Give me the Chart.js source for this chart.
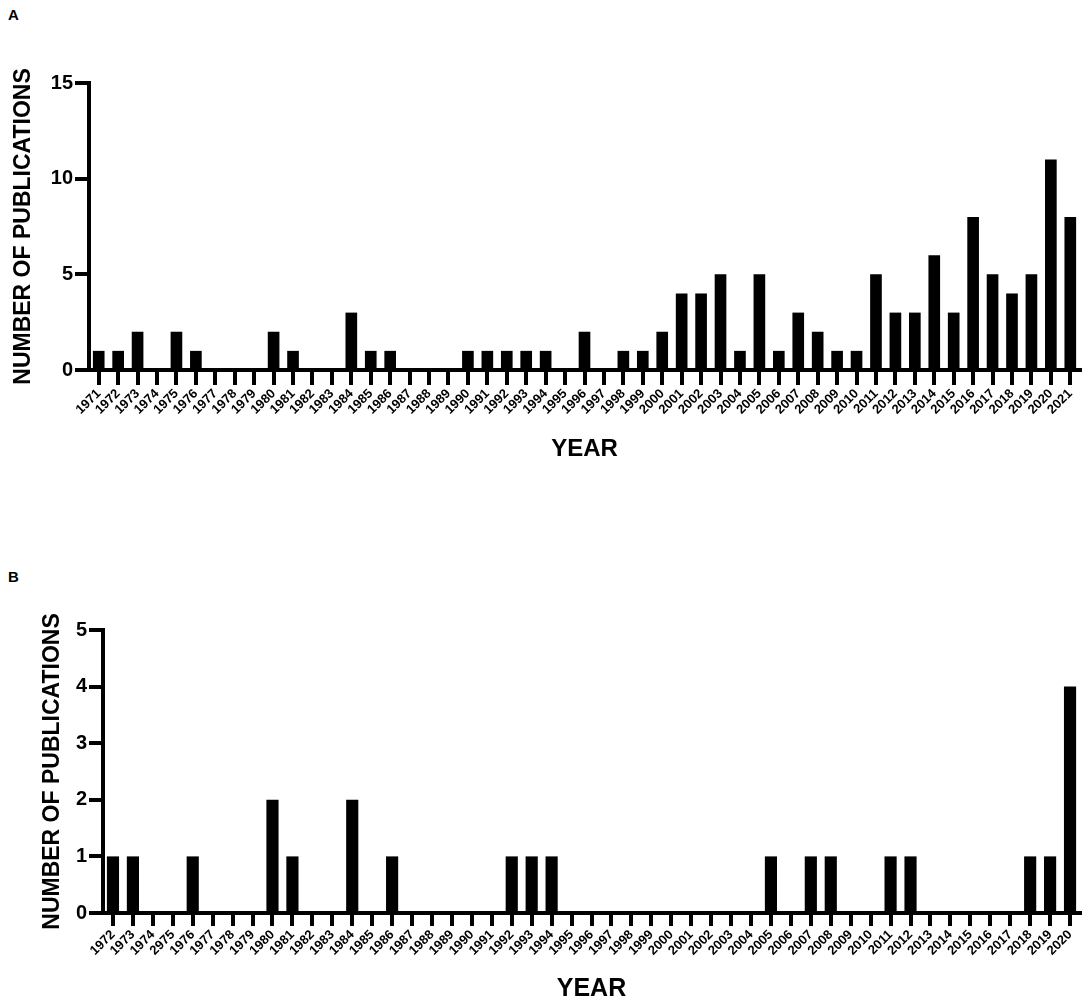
<!DOCTYPE html>
<html>
<head>
<meta charset="utf-8">
<script src="https://cdn.jsdelivr.net/npm/chart.js@4.4.1/dist/chart.umd.min.js"></script>
<style>
  html, body { margin: 0; padding: 0; background: #fff; overflow: hidden; width: 1084px; height: 1000px; }
  .wrap { position: absolute; left: 0; }
  .panel { position: absolute; left: 8px; font-family: "Liberation Sans", Arial, sans-serif; font-weight: bold; font-size: 15px; color: #000; }
</style>
</head>
<body>
<div class="panel" style="top:6px;">A</div>
<div class="panel" style="top:568px;">B</div>
<div class="wrap" style="top:0px;"><canvas id="chartA" width="1084" height="480"></canvas></div>
<div class="wrap" style="top:534px;"><canvas id="chartB" width="1084" height="470"></canvas></div>
<script>
// ---------- Data ----------
const yearsA = ["1971","1972","1973","1974","1975","1976","1977","1978","1979","1980",
  "1981","1982","1983","1984","1985","1986","1987","1988","1989","1990",
  "1991","1992","1993","1994","1995","1996","1997","1998","1999","2000",
  "2001","2002","2003","2004","2005","2006","2007","2008","2009","2010",
  "2011","2012","2013","2014","2015","2016","2017","2018","2019","2020","2021"];
const valuesA = [1,1,2,0,2,1,0,0,0,2,
  1,0,0,3,1,1,0,0,0,1,
  1,1,1,1,0,2,0,1,1,2,
  4,4,5,1,5,1,3,2,1,1,
  5,3,3,6,3,8,5,4,5,11,8];
const ticksA = [0,5,10,15];

const yearsB = ["1972","1973","1974","2975","1976","1977","1978","1979","1980","1981",
  "1982","1983","1984","1985","1986","1987","1988","1989","1990","1991",
  "1992","1993","1994","1995","1996","1997","1998","1999","2000","2001",
  "2002","2003","2004","2005","2006","2007","2008","2009","2010","2011",
  "2012","2013","2014","2015","2016","2017","2018","2019","2020"];
const valuesB = [1,1,0,0,1,0,0,0,2,1,
  0,0,2,0,1,0,0,0,0,0,
  1,1,1,0,0,0,0,0,0,0,
  0,0,0,1,0,1,1,0,0,1,
  1,0,0,0,0,0,1,1,4];
const ticksB = [0,1,2,3,4,5];

const yTitle = "NUMBER OF PUBLICATIONS";
const xTitle = "YEAR";

// ---------- Builder ----------
const FONT = "'Liberation Sans', Arial, Helvetica, sans-serif";

function makeChart(id, labels, values, yTicks, cfg) {
  const ctx = document.getElementById(id);
  return new Chart(ctx, {
    type: 'bar',
    data: {
      labels: labels,
      datasets: [{
        data: values,
        backgroundColor: '#000',
        borderWidth: 0,
        barPercentage: cfg.barPct,
        categoryPercentage: 1.0
      }]
    },
    options: {
      responsive: false,
      animation: false,
      devicePixelRatio: 1,
      layout: { padding: { top: cfg.padTop, right: cfg.padRight, left: 0, bottom: 0 } },
      plugins: { legend: { display: false }, tooltip: { enabled: false } },
      scales: {
        x: {
          type: 'category',
          offset: true,
          border: { display: true, color: '#000', width: 4 },
          grid: { display: true, offset: false, drawOnChartArea: false, drawTicks: true,
                  tickLength: cfg.xTickLen, tickWidth: 4, tickColor: '#000', color: '#000', lineWidth: 4 },
          ticks: { autoSkip: false, minRotation: 45, maxRotation: 45, color: '#000', padding: 1,
                   font: { family: FONT, weight: 'bold', size: 13 } },
          title: { display: true, text: xTitle, color: '#000',
                   font: { family: FONT, weight: 'bold', size: cfg.xTitleSize },
                   padding: { top: 0, bottom: cfg.xTitlePadB } },
          afterFit: function(s) { s.height = cfg.xHeight; }
        },
        y: {
          min: 0,
          max: yTicks[yTicks.length - 1],
          afterBuildTicks: function(s) { s.ticks = yTicks.map(v => ({ value: v })); },
          border: { display: true, color: '#000', width: 4 },
          grid: { display: true, drawOnChartArea: false, drawTicks: true,
                  tickLength: 14, tickWidth: 4, tickColor: '#000', color: '#000', lineWidth: 4 },
          ticks: { color: '#000', padding: 2, font: { family: FONT, weight: 'bold', size: 20 } },
          title: { display: true, text: yTitle, color: '#000',
                   font: { family: FONT, weight: 'bold', size: cfg.yTitleSize },
                   padding: { top: cfg.yTitlePadT, bottom: 0 } },
          afterFit: function(s) { s.width = cfg.yWidth; }
        }
      }
    }
  });
}

makeChart('chartA', yearsA, valuesA, ticksA, {
  barPct: 0.6, padTop: 83, padRight: 4, xHeight: 110, xTickLen: 15, xTitleSize: 24, xTitlePadB: 16,
  yWidth: 89, yTitleSize: 23, yTitlePadT: 10
});
makeChart('chartB', yearsB, valuesB, ticksB, {
  barPct: 0.61, padTop: 96, padRight: 4, xHeight: 91, xTickLen: 13, xTitleSize: 25, xTitlePadB: 0,
  yWidth: 103, yTitleSize: 23, yTitlePadT: 39
});
</script>
</body>
</html>
